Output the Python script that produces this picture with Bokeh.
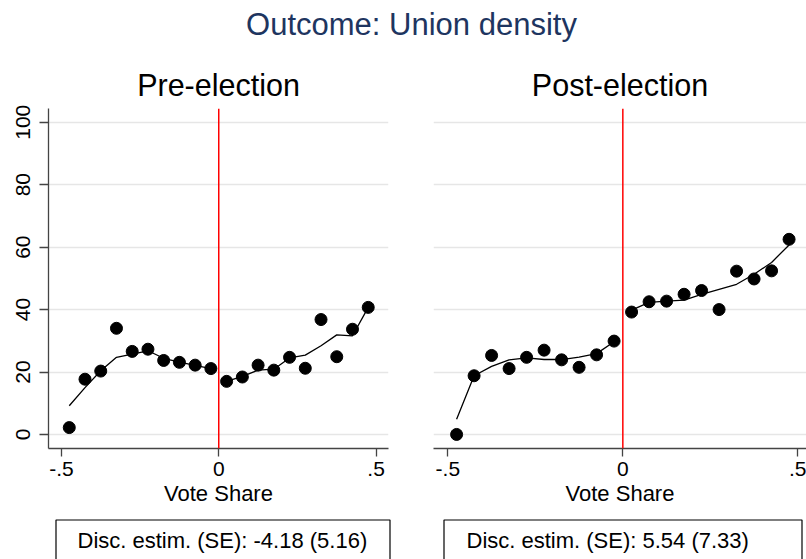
from bokeh.plotting import figure
from bokeh.models import Range1d, FixedTicker, Span
from bokeh.layouts import column, row
from bokeh.embed import file_html
from bokeh.resources import INLINE
from bokeh.core.properties import value

# ---------------- data ----------------
main_title = "Outcome: Union density"
panel_titles = ["Pre-election", "Post-election"]
x_label = "Vote Share"
estimates = ["Disc. estim. (SE): -4.18 (5.16)", "Disc. estim. (SE): 5.54 (7.33)"]

vote_share = [-0.475, -0.425, -0.375, -0.325, -0.275, -0.225, -0.175, -0.125, -0.075, -0.025,
              0.025, 0.075, 0.125, 0.175, 0.225, 0.275, 0.325, 0.375, 0.425, 0.475]

pre_union = [2.2, 17.7, 20.3, 34.0, 26.6, 27.3, 23.7, 23.1, 22.2, 21.1,
             17.0, 18.4, 22.2, 20.6, 24.7, 21.2, 36.8, 24.9, 33.7, 40.7]
pre_fit = [9.2, 15.0, 20.4, 24.7, 25.7, 26.8, 24.4, 23.2, 22.1, 21.1,
           17.0, 18.6, 20.6, 20.9, 24.5, 25.4, 28.4, 31.9, 31.6, 40.7]

post_union = [0.0, 18.8, 25.3, 21.1, 24.7, 27.0, 23.9, 21.5, 25.5, 29.9,
              39.2, 42.5, 42.7, 44.9, 46.1, 40.0, 52.3, 49.8, 52.4, 62.5]
post_fit = [4.9, 18.8, 21.8, 23.9, 24.5, 24.0, 24.0, 24.8, 25.9, 29.7,
            39.8, 42.3, 42.7, 43.0, 44.9, 46.5, 48.1, 51.3, 55.1, 60.7]

y_ticks = [0, 20, 40, 60, 80, 100]
x_ticks = [-0.5, 0, 0.5]
x_tick_labels = ["-.5", "0", ".5"]
cutoff = 0

FONT = "Liberation Sans"
AXIS_COL = "#444444"
GRID_COL = "#e6e6e6"

W_TOTAL = 806
TITLE_H = 58
PANEL_H = 456
BOX_H = 559 - TITLE_H - PANEL_H


def title_fig():
    t = figure(width=W_TOTAL, height=TITLE_H, x_range=Range1d(0, W_TOTAL),
               y_range=Range1d(TITLE_H, 0),
               min_border=0, x_axis_location=None, y_axis_location=None,
               toolbar_location=None, output_backend="svg")
    t.grid.visible = False
    t.outline_line_color = None
    t.text(x=[411], y=[24], text=[main_title], text_align="center",
           text_baseline="middle", text_font=value(FONT),
           text_font_size="31px", text_color="#1e3560")
    return t


def panel(title, ys, fit, x_start, x_end, width, min_left, min_right, show_y):
    p = figure(width=width, height=PANEL_H,
               x_range=Range1d(x_start, x_end), y_range=Range1d(-4.5, 104.4),
               min_border_left=min_left, min_border_right=min_right,
               min_border_top=50, min_border_bottom=PANEL_H - 50 - 340,
               y_axis_location="left" if show_y else None,
               toolbar_location=None, output_backend="svg", title=title)
    p.outline_line_color = None
    p.title.align = "center"
    p.title.text_font = FONT
    p.title.text_font_size = "30.5px"
    p.title.text_font_style = "normal"
    p.title.text_color = "black"
    p.title.standoff = 13

    p.xgrid.visible = False
    p.ygrid.ticker = FixedTicker(ticks=y_ticks)
    p.ygrid.grid_line_color = GRID_COL
    p.ygrid.grid_line_width = 1.5

    xa = p.xaxis[0]
    xa.ticker = FixedTicker(ticks=x_ticks)
    xa.major_label_overrides = {t: l for t, l in zip(x_ticks, x_tick_labels)}
    xa.axis_label = x_label
    for ax in p.axis:
        ax.axis_line_color = AXIS_COL
        ax.axis_line_width = 1.3
        ax.major_tick_line_color = AXIS_COL
        ax.major_tick_line_width = 1.3
        ax.major_tick_in = 0
        ax.minor_tick_in = 0
        ax.minor_tick_out = 0
        ax.major_label_text_font = FONT
        ax.major_label_text_font_size = "21px"
        ax.major_label_text_color = "black"
        ax.axis_label_text_font = FONT
        ax.axis_label_text_font_size = "22px"
        ax.axis_label_text_font_style = "normal"
        ax.axis_label_text_color = "black"
    xa.major_tick_out = 8
    xa.major_label_standoff = 5
    xa.axis_label_standoff = 2
    if show_y:
        ya = p.yaxis[0]
        ya.ticker = FixedTicker(ticks=y_ticks)
        ya.major_label_orientation = "vertical"
        ya.major_tick_out = 9
        ya.major_label_standoff = 9

    p.add_layout(Span(location=cutoff, dimension="height", line_color="red", line_width=1.5))

    left = [i for i, v in enumerate(vote_share) if v < cutoff]
    right = [i for i, v in enumerate(vote_share) if v > cutoff]
    for idx in (left, right):
        p.line([vote_share[i] for i in idx], [fit[i] for i in idx],
               line_color="black", line_width=1.3)
    p.scatter(vote_share, ys, size=12, color="black")
    return p


def est_box(text, width, box_left, box_right, text_x):
    top_off = 519 - TITLE_H - PANEL_H
    b = figure(width=width, height=BOX_H, x_range=Range1d(0, width), y_range=Range1d(BOX_H, 0),
               min_border=0, x_axis_location=None, y_axis_location=None,
               toolbar_location=None, output_backend="svg")
    b.grid.visible = False
    b.outline_line_color = None
    b.quad(left=[box_left], right=[box_right], top=[top_off + 0.5], bottom=[BOX_H + 20],
           fill_color=None, line_color="black", line_width=1.2)
    b.text(x=[text_x], y=[540 - TITLE_H - PANEL_H], text=[text], text_align="left",
           text_baseline="middle", text_font=value(FONT),
           text_font_size="22px", text_color="black")
    return b


p1 = panel(panel_titles[0], pre_union, pre_fit, -0.541, 0.5394, 403, 48, 15, True)
p2 = panel(panel_titles[1], post_union, post_fit, -0.541, 0.5248, 403, 30, 0, False)
b1 = est_box(estimates[0], 403, 55.5, 389.5, 77)
b2 = est_box(estimates[1], 403, 40.5, 398.5, 63)

layout = column(title_fig(), row(p1, p2), row(b1, b2))

open("out.html", "w").write(file_html(layout, INLINE))
